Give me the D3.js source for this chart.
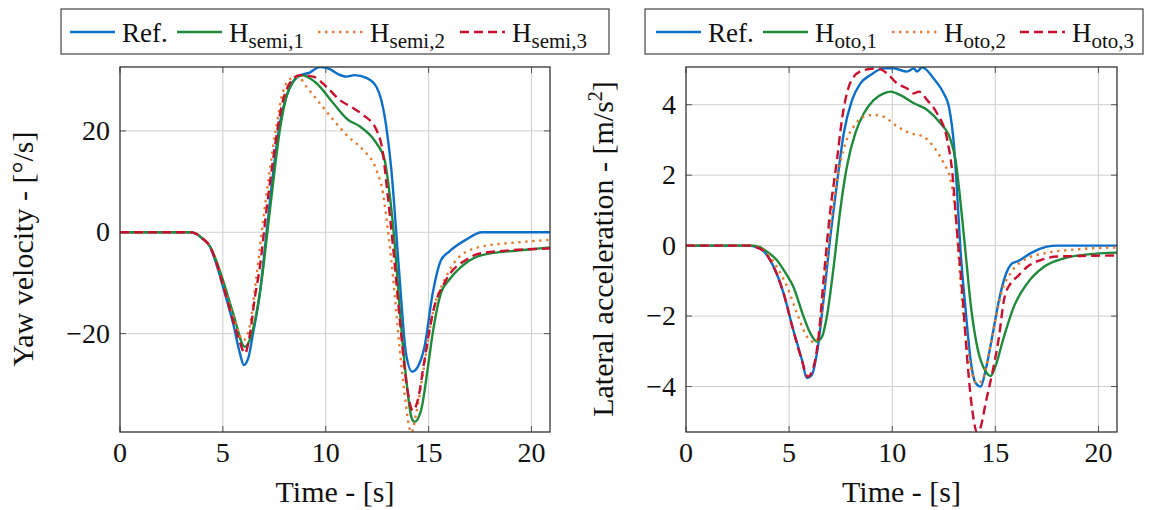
<meta charset="utf-8">
<html lang="en">
<head>
    <meta charset="utf-8">
    <style>
        body { margin: 0; background: #fff; }
        svg { display: block; }
        text { font-family: "Liberation Serif", serif; fill: #111; }
    </style>
</head>
<body>
    <div id="chart"></div>
    <script src="https://d3js.org/d3.v7.min.js"></script>
    <script>
        // ---- data: [time s, value] ----
        var timeTicks = [0, 5, 10, 15, 20];
        var yawTicks = [-20, 0, 20];
        var accTicks = [-4, -2, 0, 2, 4];

        var yawRef = [[0,0],[3,0],[3.4,0],[3.7,-0.3],[4.0,-1.2],[4.37,-2.8],[4.7,-6.5],[5.0,-10.7],[5.5,-18],[5.83,-23.9],[6.02,-26.2],[6.23,-24.9],[6.47,-19.9],[6.8,-12],[7.12,-0.2],[7.44,11.6],[7.77,21.5],[8.09,26.8],[8.41,29.7],[8.74,30.9],[9.22,31.5],[9.7,32.6],[10.2,32.2],[10.6,31.2],[11.0,30.7],[11.4,31],[12.0,30.4],[12.46,28.7],[12.7,26.1],[12.94,20.9],[13.19,12.3],[13.43,-0.2],[13.67,-13.4],[13.9,-23.9],[14.2,-27.5],[14.48,-26.5],[14.8,-22.6],[15.2,-12],[15.6,-5.5],[16.0,-3.8],[16.8,-1.5],[17.6,0],[18,0],[20.9,0]];
        var yawSemi1 = [[0,0],[3.4,0],[3.7,-0.3],[4.0,-1.2],[4.37,-2.8],[4.7,-5.8],[5.0,-9.4],[5.5,-16],[6.07,-22.6],[6.3,-21.3],[6.63,-16],[6.9,-9],[7.12,-1.5],[7.44,9.7],[7.77,20.2],[8.09,26.8],[8.41,29.7],[8.82,31],[9.55,29.4],[10.36,25.5],[11.08,22.2],[11.65,20.9],[12.46,17.6],[12.86,14.3],[13.1,7.7],[13.35,-2.2],[13.6,-15.3],[13.9,-28.5],[14.16,-36.4],[14.32,-37.4],[14.64,-35],[14.97,-26.5],[15.2,-19.9],[15.6,-12],[16.0,-9.4],[16.8,-6.1],[17.6,-4.5],[19.3,-3.6],[20.9,-3.0]];
        var yawSemi2 = [[0,0],[3.4,0],[3.7,-0.3],[4.0,-1.2],[4.37,-2.8],[4.7,-6],[5.0,-10],[5.5,-16.5],[6.0,-21.3],[6.3,-18.6],[6.63,-8.8],[6.96,2.4],[7.28,12.3],[7.6,20.9],[7.93,27.8],[8.33,30.4],[8.66,30.7],[9.06,28.7],[9.7,25.5],[10.36,22.2],[11.08,18.9],[11.8,16.3],[12.46,12.3],[12.78,7.7],[13.0,1.1],[13.27,-8.8],[13.6,-23.2],[13.83,-31.8],[14.16,-39.5],[14.4,-35.7],[14.7,-28.5],[15.2,-16],[15.85,-8.8],[16.5,-4.8],[17.6,-2.8],[19.3,-2.0],[20.9,-1.5]];
        var yawSemi3 = [[0,0],[3.4,0],[3.7,-0.3],[4.0,-1.2],[4.37,-2.8],[4.7,-6.2],[5.0,-10.3],[5.5,-17.5],[5.85,-22],[6.07,-23.9],[6.3,-20.5],[6.55,-13],[6.8,-6.8],[7.12,4.4],[7.44,14.3],[7.85,24.8],[8.25,29.4],[8.74,31],[9.39,30.7],[10.03,28.7],[10.68,26.1],[11.33,24.5],[11.8,23.2],[12.46,20.2],[12.78,15.6],[13.0,7.7],[13.27,-2.8],[13.6,-17.3],[13.9,-29.1],[14.24,-35.2],[14.48,-33],[14.8,-25.2],[15.2,-16],[15.85,-9.4],[16.8,-5.5],[17.6,-4.1],[20.9,-3.2]];

        var accRef = [[0,0],[3.1,0],[3.43,-0.05],[3.75,-0.15],[4.08,-0.41],[4.4,-0.8],[4.73,-1.35],[5.2,-2.39],[5.62,-3.24],[5.86,-3.76],[6.1,-3.67],[6.35,-3.05],[6.67,-1.54],[7.0,0.26],[7.32,1.77],[7.65,3.19],[8.05,4.13],[8.45,4.6],[8.94,4.84],[9.59,5.03],[10.07,5.03],[10.72,4.94],[11.05,5.03],[11.2,4.94],[11.45,5.06],[12.0,4.75],[12.5,4.32],[12.75,3.94],[13.0,2.81],[13.15,1.48],[13.3,-0.03],[13.56,-1.83],[13.8,-3.24],[14.04,-3.9],[14.29,-4.0],[14.53,-3.53],[14.85,-2.58],[15.18,-1.54],[15.42,-0.97],[15.82,-0.5],[16.07,-0.45],[16.7,-0.22],[17.5,-0.03],[18,0],[20.9,0]];
        var accOto1 = [[0,0],[3.3,0],[3.6,-0.05],[4.0,-0.2],[4.4,-0.41],[4.8,-0.75],[5.2,-1.16],[5.7,-2.01],[6.03,-2.49],[6.35,-2.72],[6.6,-2.58],[6.83,-2.01],[7.16,-0.6],[7.48,1.01],[7.8,2.24],[8.21,3.19],[8.62,3.75],[9.1,4.13],[9.59,4.32],[9.91,4.37],[10.4,4.27],[11.05,4.04],[11.7,3.85],[12.34,3.47],[12.83,3.0],[13.07,2.43],[13.3,1.3],[13.56,-0.22],[13.8,-1.64],[14.12,-2.87],[14.53,-3.57],[14.77,-3.7],[15.0,-3.43],[15.42,-2.58],[15.9,-1.73],[16.55,-1.07],[17.36,-0.6],[18.33,-0.36],[19.47,-0.25],[20.9,-0.2]];
        var accOto2 = [[0,0],[3.2,0],[3.5,-0.05],[3.8,-0.15],[4.08,-0.31],[4.5,-0.7],[4.9,-1.16],[5.38,-1.92],[5.86,-2.58],[6.27,-2.75],[6.5,-2.3],[6.75,-0.88],[7.0,0.54],[7.32,1.86],[7.73,2.9],[8.13,3.38],[8.62,3.66],[9.1,3.71],[9.59,3.66],[10.24,3.38],[10.88,3.19],[11.53,3.09],[12.0,2.81],[12.5,2.34],[12.83,1.86],[13.07,0.92],[13.23,-0.41],[13.48,-2.11],[13.8,-3.43],[14.12,-3.92],[14.37,-3.81],[14.69,-3.05],[15.0,-2.11],[15.34,-1.26],[15.74,-0.78],[16.39,-0.41],[17.36,-0.22],[18.66,-0.12],[20.9,-0.05]];
        var accOto3 = [[0,0],[3.1,0],[3.43,-0.05],[3.75,-0.15],[4.08,-0.41],[4.4,-0.8],[4.73,-1.35],[5.2,-2.4],[5.62,-3.25],[5.9,-3.72],[6.19,-3.43],[6.43,-2.58],[6.67,-0.97],[7.0,1.01],[7.32,2.43],[7.56,3.57],[7.8,4.32],[8.13,4.79],[8.62,4.98],[9.26,5.03],[9.75,4.89],[10.24,4.6],[10.72,4.46],[11.05,4.32],[11.29,4.37],[11.7,4.13],[12.18,3.75],[12.67,3.0],[12.9,2.15],[13.15,0.35],[13.4,-1.35],[13.64,-3.24],[13.88,-4.66],[14.12,-5.3],[14.29,-5.15],[14.53,-4.47],[14.85,-3.62],[15.18,-2.58],[15.42,-1.54],[15.74,-1.07],[16.07,-0.88],[16.55,-0.6],[17.2,-0.41],[18.0,-0.31],[19.47,-0.29],[20.9,-0.28]];

        // line styles: Ref., 1, 2, 3
        var styles = [
            { color: "#0b6fc8", dash: null },
            { color: "#1f8a3c", dash: null },
            { color: "#e57a30", dash: "2.4 4.6" },
            { color: "#c8102e", dash: "9 5" }
        ];

        var svg = d3.select("#chart").append("svg")
            .attr("width", 1153).attr("height", 510);

        function panel(p) {
            var x = d3.scaleLinear().domain([0, 20.9]).range([p.left, p.right]);
            var y = d3.scaleLinear().domain(p.ydom).range([432, 67]);
            var g = svg.append("g");
            var fmt = function (d) { return d < 0 ? "\u2212" + Math.abs(d) : String(d); };

            // grid
            g.selectAll(".gx").data(p.xticks.filter(function (d) { return d > 0; })).enter().append("line")
                .attr("x1", x).attr("x2", x).attr("y1", 67).attr("y2", 432)
                .attr("stroke", "#cfcfcf").attr("stroke-width", 1);
            g.selectAll(".gy").data(p.yticks).enter().append("line")
                .attr("y1", y).attr("y2", y).attr("x1", p.left).attr("x2", p.right)
                .attr("stroke", "#cfcfcf").attr("stroke-width", 1);

            // tick marks, both sides, pointing in
            p.xticks.forEach(function (d) {
                g.append("line").attr("x1", x(d)).attr("x2", x(d)).attr("y1", 432).attr("y2", 426).attr("stroke", "#555");
                g.append("line").attr("x1", x(d)).attr("x2", x(d)).attr("y1", 67).attr("y2", 73).attr("stroke", "#555");
            });
            p.yticks.forEach(function (d) {
                g.append("line").attr("y1", y(d)).attr("y2", y(d)).attr("x1", p.left).attr("x2", p.left + 6).attr("stroke", "#555");
                g.append("line").attr("y1", y(d)).attr("y2", y(d)).attr("x1", p.right).attr("x2", p.right - 6).attr("stroke", "#555");
            });

            // tick labels
            g.selectAll(".xl").data(p.xticks).enter().append("text")
                .attr("x", x).attr("y", 462).attr("text-anchor", "middle")
                .attr("font-size", 28).text(fmt);
            g.selectAll(".yl").data(p.yticks).enter().append("text")
                .attr("x", p.left - 10).attr("y", function (d) { return y(d) + 9; })
                .attr("text-anchor", "end")
                .attr("font-size", 28).text(fmt);

            // curves
            var clipId = "clip" + p.id;
            svg.append("clipPath").attr("id", clipId).append("rect")
                .attr("x", p.left).attr("y", 67).attr("width", p.right - p.left).attr("height", 365);
            var line = d3.line()
                .x(function (d) { return x(d[0]); })
                .y(function (d) { return y(d[1]); })
                .curve(d3.curveMonotoneX);
            g.append("g").attr("clip-path", "url(#" + clipId + ")")
                .selectAll("path").data(p.series).enter().append("path")
                .attr("d", line)
                .attr("fill", "none")
                .attr("stroke", function (d, i) { return styles[i].color; })
                .attr("stroke-width", 2.4)
                .attr("stroke-dasharray", function (d, i) { return styles[i].dash; });

            // frame
            g.append("rect").attr("x", p.left).attr("y", 67)
                .attr("width", p.right - p.left).attr("height", 365)
                .attr("fill", "none").attr("stroke", "#333").attr("stroke-width", 1.3);

            // axis titles
            g.append("text").attr("x", (p.left + p.right) / 2).attr("y", 502)
                .attr("text-anchor", "middle").attr("font-size", 30).text("Time - [s]");
            var yt = g.append("text")
                .attr("transform", "translate(" + p.ylabX + ",249) rotate(-90)")
                .attr("text-anchor", "middle").attr("font-size", 30);
            p.ylabel(yt);

            // legend
            var lg = g.append("g");
            lg.append("rect").attr("x", p.legBox[0]).attr("y", 9)
                .attr("width", p.legBox[1] - p.legBox[0]).attr("height", 45)
                .attr("fill", "#fff").attr("stroke", "#444").attr("stroke-width", 1.2);
            p.names.forEach(function (nm, i) {
                var lx = p.legLines[i];
                lg.append("line").attr("x1", lx).attr("x2", lx + 45).attr("y1", 32).attr("y2", 32)
                    .attr("stroke", styles[i].color).attr("stroke-width", 2.4)
                    .attr("stroke-dasharray", styles[i].dash);
                var t = lg.append("text").attr("x", lx + 52).attr("y", 42).attr("font-size", 27);
                t.append("tspan").text(nm.main);
                if (nm.sub) t.append("tspan").attr("dy", 6).attr("font-size", 21).text(nm.sub);
            });
        }

        panel({
            id: "a", left: 120, right: 550, ydom: [-39.4, 32.6],
            xticks: timeTicks, yticks: yawTicks, ylabX: 33,
            legBox: [61, 609], legLines: [70, 177, 318, 460],
            series: [yawRef, yawSemi1, yawSemi2, yawSemi3],
            names: [{ main: "Ref." }, { main: "H", sub: "semi,1" }, { main: "H", sub: "semi,2" }, { main: "H", sub: "semi,3" }],
            ylabel: function (t) { t.text("Yaw velocity - [\u00b0/s]"); }
        });
        panel({
            id: "b", left: 686, right: 1117, ydom: [-5.29, 5.07],
            xticks: timeTicks, yticks: accTicks, ylabX: 613,
            legBox: [645, 1143], legLines: [656, 763, 892, 1020],
            series: [accRef, accOto1, accOto2, accOto3],
            names: [{ main: "Ref." }, { main: "H", sub: "oto,1" }, { main: "H", sub: "oto,2" }, { main: "H", sub: "oto,3" }],
            ylabel: function (t) {
                t.append("tspan").text("Lateral acceleration - [m/s");
                t.append("tspan").attr("dy", -11).attr("font-size", 20).text("2");
                t.append("tspan").attr("dy", 11).text("]");
            }
        });
    </script>
</body>
</html>
